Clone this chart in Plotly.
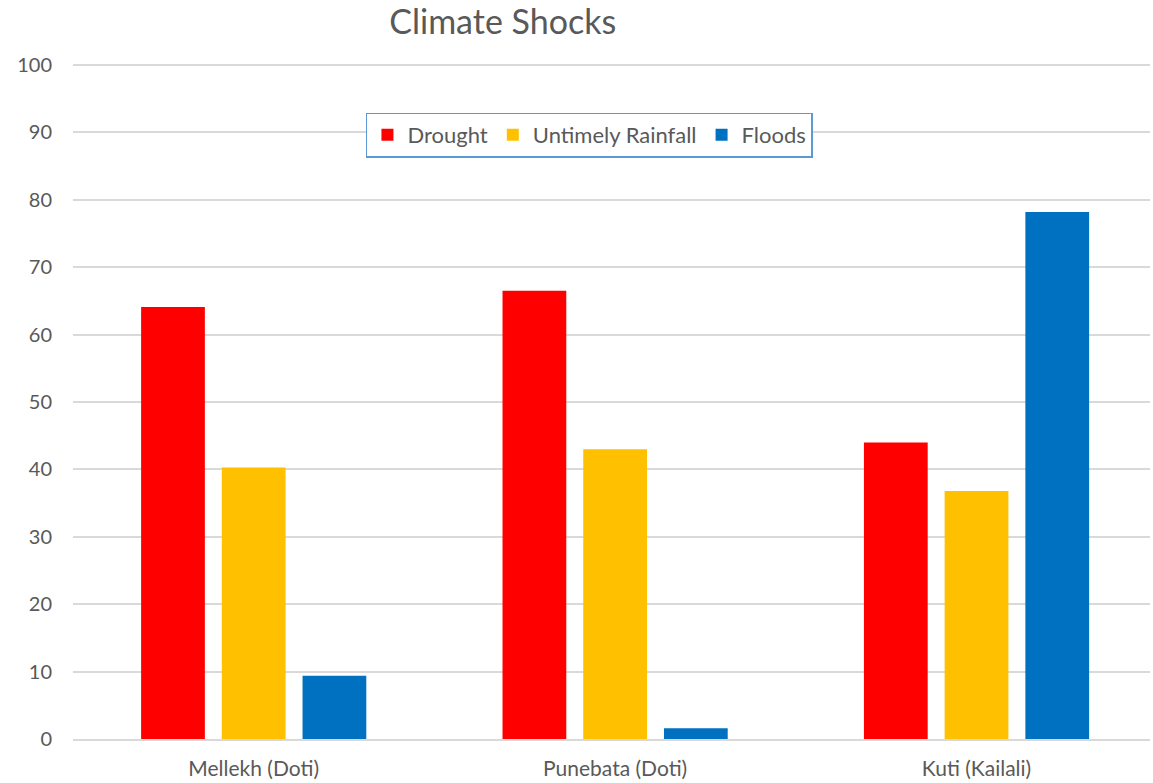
import plotly.graph_objects as go

# Survey sites and share of households reporting each climate shock (%)
sites = ["Mellekh (Doti)", "Punebata (Doti)", "Kuti (Kailali)"]
drought = [64.1, 66.5, 44.0]
untimely_rainfall = [40.3, 43.0, 36.8]
floods = [9.4, 1.6, 78.2]
y_ticks = list(range(0, 101, 10))

series = [
    ("Drought", drought, "#FF0000"),
    ("Untimely Rainfall", untimely_rainfall, "#FFC000"),
    ("Floods", floods, "#0070C0"),
]

fig = go.Figure()
for name, vals, color in series:
    fig.add_trace(go.Bar(name=name, x=sites, y=vals, marker_color=color,
                         marker_line_width=0))

font_family = "Lato, 'Open Sans', sans-serif"
text_color = "#595959"
grid_color = "#D9D9D9"

# a little headroom above 100 so the top gridline is drawn
y_max = 100.6
fig.update_layout(
    width=1153, height=783,
    margin=dict(l=73, r=3, t=61, b=44),
    paper_bgcolor="white", plot_bgcolor="white",
    font=dict(family=font_family, color=text_color, size=19),
    title=dict(text="Climate Shocks", x=0.436, xanchor="center",
               y=0.972, yanchor="middle",
               font=dict(size=34, color=text_color, family=font_family)),
    barmode="group", bargap=0.33, bargroupgap=0.21,
    legend=dict(orientation="h", x=0.272, y=0.924, xanchor="left", yanchor="top",
                bordercolor="#5B9BD5", borderwidth=1.5, bgcolor="white",
                font=dict(size=22, color=text_color, family=font_family),
                traceorder="normal"),
    showlegend=True,
)
fig.update_yaxes(range=[0, y_max], tickvals=y_ticks, showgrid=True,
                 gridcolor=grid_color, gridwidth=1.5, zeroline=False,
                 showline=False, ticks="", ticklabelstandoff=20,
                 automargin=False,
                 tickfont=dict(size=20, color=text_color))
# the last category runs slightly past the right edge of the chart
fig.update_xaxes(range=[-0.5, 2.48], showline=True, linecolor=grid_color,
                 linewidth=1.5, ticks="", ticklabelstandoff=10, automargin=False,
                 tickfont=dict(size=21, color=text_color))

fig.write_html("out.html")
